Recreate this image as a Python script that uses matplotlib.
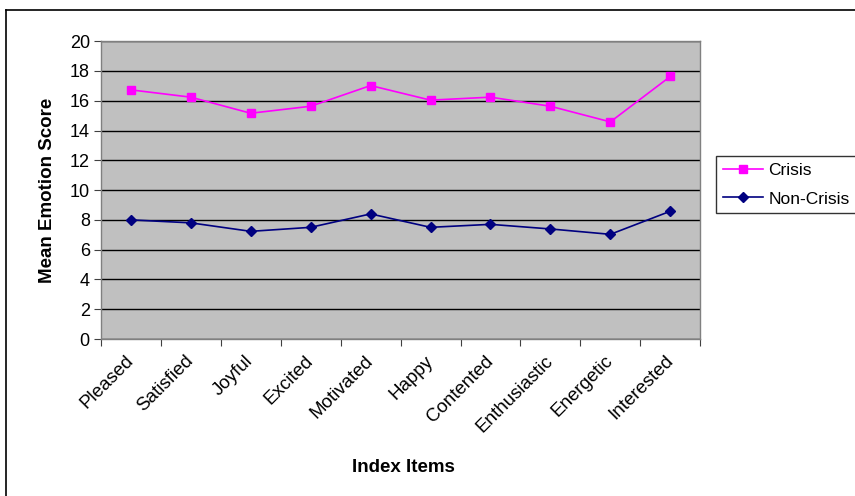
import matplotlib.pyplot as plt
from matplotlib.lines import Line2D

plt.rcParams['font.family'] = ['Liberation Sans', 'DejaVu Sans']

items = ["Pleased", "Satisfied", "Joyful", "Excited", "Motivated",
         "Happy", "Contented", "Enthusiastic", "Energetic", "Interested"]
crisis = [16.73, 16.24, 15.16, 15.63, 17.02, 16.04, 16.24, 15.63, 14.58, 17.63]
non_crisis = [8.0, 7.80, 7.23, 7.50, 8.40, 7.50, 7.70, 7.39, 7.03, 8.58]
y_ticks = [0, 2, 4, 6, 8, 10, 12, 14, 16, 18, 20]

fig = plt.figure(figsize=(8.55, 4.96), dpi=100)
ax = fig.add_axes([0.118, 0.3165, 0.701, 0.6005])
ax.set_facecolor('#c0c0c0')

xs = [i + 0.5 for i in range(len(items))]
ax.plot(xs, crisis, color='#ff00ff', marker='s', markersize=6, linewidth=1.2, label='Crisis')
ax.plot(xs, non_crisis, color='#000080', marker='D', markersize=5.5, linewidth=1.2, label='Non-Crisis')

ax.set_xlim(0, len(items))
ax.set_ylim(0, 20)
ax.set_yticks(y_ticks)
ax.set_yticklabels([str(v) for v in y_ticks], fontsize=13)
ax.yaxis.grid(True, color='black', linewidth=1)
ax.set_axisbelow(True)

# boundary ticks without labels, names at the centres
ax.set_xticks(range(len(items) + 1))
ax.set_xticklabels([])
ax.set_xticks(xs, minor=True)
ax.set_xticklabels(items, minor=True, rotation=45, ha='right', va='center',
                   rotation_mode='anchor', fontsize=13.5)
ax.tick_params(axis='x', which='minor', length=0, pad=14)
ax.tick_params(axis='both', which='major', length=5, color='#404040', direction='out')
ax.tick_params(axis='y', pad=3)

for s in ax.spines.values():
    s.set_color('#808080')
    s.set_linewidth(1)

ax.set_ylabel('Mean Emotion Score', fontsize=13.5, fontweight='bold', labelpad=10)
fig.text(403 / 855, 1 - 467 / 496, 'Index Items', fontsize=13.5, fontweight='bold',
         ha='center', va='center')

leg = ax.legend(loc='upper left', bbox_to_anchor=(0.837, 0.685),
                bbox_transform=fig.transFigure, fontsize=12.5, frameon=True,
                fancybox=False, edgecolor='black', handlelength=2.35,
                handletextpad=0.3, borderaxespad=0, borderpad=0.4,
                labelspacing=0.75)
leg.get_frame().set_linewidth(1)
leg.get_frame().set_facecolor('white')

# outer chart border (cropped at right and bottom)
fig.add_artist(Line2D([0.007, 1.0], [0.98, 0.98], color='black', linewidth=1.2,
                      transform=fig.transFigure))
fig.add_artist(Line2D([0.007, 0.007], [0.0, 0.98], color='black', linewidth=1.2,
                      transform=fig.transFigure))

fig.savefig('out.png', dpi=100)
